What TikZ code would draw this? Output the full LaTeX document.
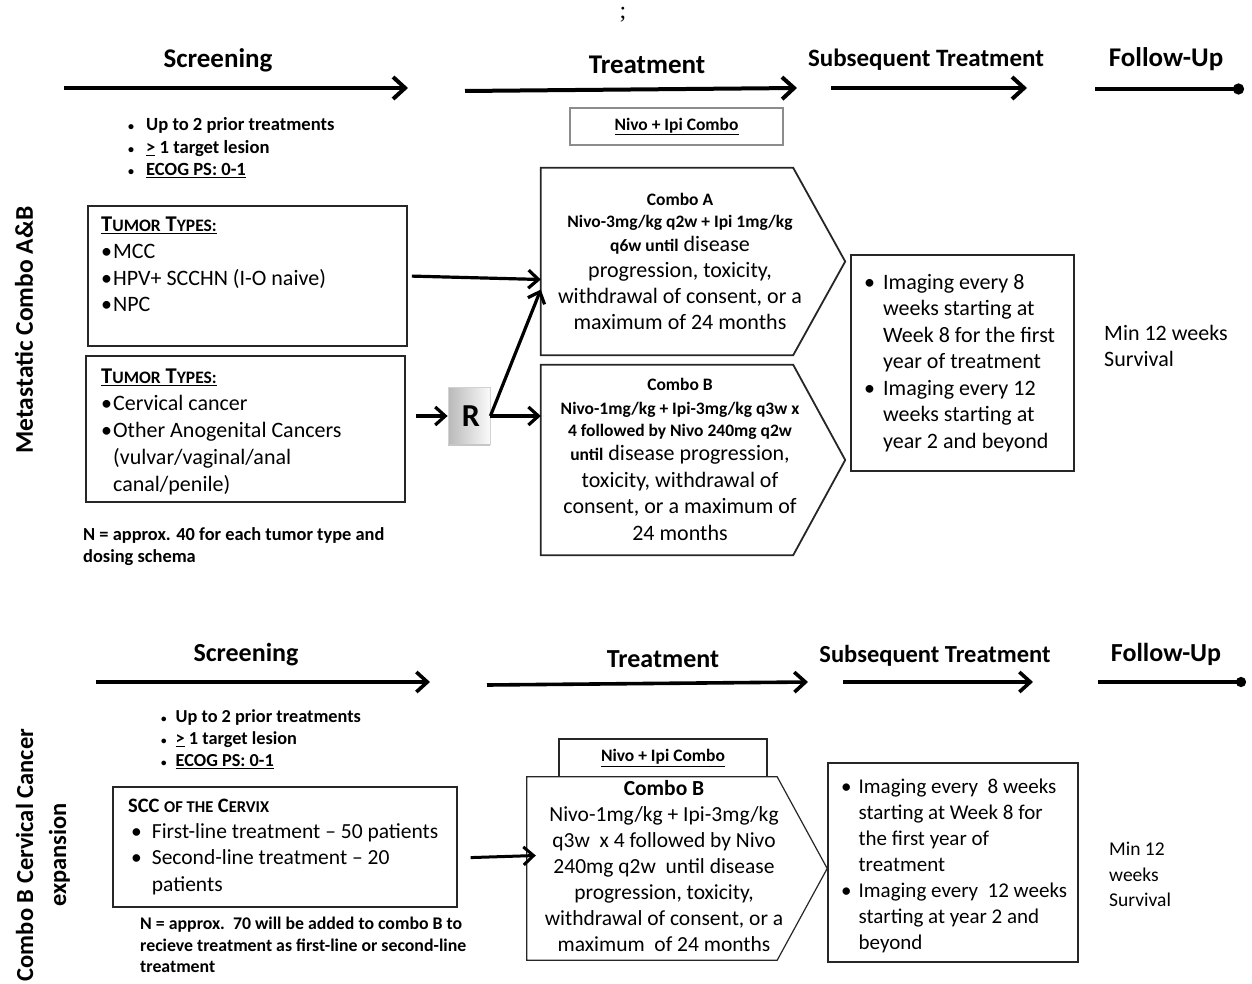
\documentclass[tikz,border=0pt]{standalone}
\usepackage{fontspec}
\setmainfont{Carlito}
\newfontfamily\serifx{Liberation Serif}
\usetikzlibrary{arrows.meta,calc}
\newcommand\fs[2]{\fontsize{#1pt}{#2pt}\selectfont}
\begin{document}
\begin{tikzpicture}[x=1pt,y=-1pt,
  bx/.style={draw=black!85, line width=1.8pt},
  bxthin/.style={draw=black!85, line width=1.2pt},
  hd/.style={font=\bfseries\fs{27}{32}, inner sep=0pt},
  hdb/.style={font=\bfseries\fs{26}{30}, inner sep=0pt},
  txt/.style={inner sep=0pt},
  arr/.style={line width=3.2pt, -{Straight Barb[length=10pt,width=18pt]}},
  hdarr/.style={line width=4pt, -{Straight Barb[length=12pt,width=22pt]}},
  hdarrb/.style={line width=3.6pt, -{Straight Barb[length=11pt,width=20pt]}},
  dotend/.style={line width=4pt, -{Circle[length=11pt]}},
  dotendb/.style={line width=3.6pt, -{Circle[length=10pt]}}
]
\fill[white] (0,0) rectangle (1252,984);
\path[use as bounding box] (0,0) rectangle (1252,984);

\node[txt, font=\serifx\fs{24}{24}] (semi) at (623,15) {;};

% ---------------- top timeline
\node[hd] (hS1) at (218,60) {Screening};
\node[hd] (hT1) at (647,65) {Treatment};
\node[hd, font=\bfseries\fs{25}{30}] (hU1) at (926,60) {Subsequent Treatment};
\node[hd] (hF1) at (1166,59) {Follow-Up};
\coordinate (s1a) at (64,88);   \coordinate (s1b) at (408,88);
\coordinate (t1a) at (465,91);  \coordinate (t1b) at (797,88);
\coordinate (u1a) at (831,88);  \coordinate (u1b) at (1027,88);
\coordinate (f1a) at (1095,89); \coordinate (f1b) at (1244,89);
\draw[hdarr] (s1a) -- (s1b);
\draw[hdarr] (t1a) -- (t1b);
\draw[hdarr] (u1a) -- (u1b);
\draw[dotend] (f1a) -- (f1b);

\node[txt, anchor=west, font=\bfseries\fs{18.6}{22.5}] (crit1) at (128,149) {\begin{tabular}{@{}l@{\hspace{12pt}}l@{}}
{\fs{12}{12}\textbullet} & Up to 2 prior treatments\\
{\fs{12}{12}\textbullet} & \underline{>} 1 target lesion\\
{\fs{12}{12}\textbullet} & \underline{ECOG PS: 0-1}
\end{tabular}};

\node[draw=black!45, line width=1.5pt, minimum width=213pt, minimum height=37pt, inner sep=0pt, font=\bfseries\fs{17.5}{20}] (niv1) at (676.5,126.5) {\underline{Nivo + Ipi Combo}};

% tumor boxes
\node[bx, minimum width=319pt, minimum height=140pt, inner sep=0pt] (tb1) at (247.5,276) {};
\node[txt, anchor=west, font=\fs{22}{26.7}] (tb1x) at (101,266.5) {\begin{tabular}{@{}l@{}}
\bfseries\underline{{\fs{22.5}{26.7}T}{\fs{17.5}{26.7}UMOR} {\fs{22.5}{26.7}T}{\fs{17.5}{26.7}YPES:}}\\
\textbullet\hspace{1pt}MCC\\
\textbullet\hspace{1pt}HPV+ SCCHN (I-O naive)\\
\textbullet\hspace{1pt}NPC
\end{tabular}};

\node[bx, minimum width=319pt, minimum height=146pt, inner sep=0pt] (tb2) at (245.5,429) {};
\node[txt, anchor=west, font=\fs{22}{27}] (tb2x) at (101,432) {\begin{tabular}{@{}l@{}}
\bfseries\underline{{\fs{22.5}{27}T}{\fs{17.5}{27}UMOR} {\fs{22.5}{27}T}{\fs{17.5}{27}YPES:}}\\
\textbullet\hspace{1pt}Cervical cancer\\
\textbullet\hspace{1pt}Other Anogenital Cancers\\
\phantom{\textbullet}\hspace{1pt}(vulvar/vaginal/anal\\
\phantom{\textbullet}\hspace{1pt}canal/penile)
\end{tabular}};

\node[txt, anchor=west, font=\bfseries\fs{18.4}{22}] (n40) at (83,547) {\begin{tabular}{@{}l@{}}
N = approx. 40 for each tumor type and\\
dosing schema
\end{tabular}};

% R box
\node[draw=gray!35, line width=0.8pt, minimum width=42pt, minimum height=57pt, inner sep=0pt,
  left color=gray!55, middle color=gray!6, right color=gray!4, font=\bfseries\fs{32}{32}] (rr) at (469,416) {\hspace{4pt}R};
\draw[gray!45, line width=2pt] (rr.south west) -- (rr.south east);

% combo A / B
\node[minimum width=252pt, minimum height=187pt, inner sep=0pt] (ca) at (667,261.5) {};
\draw[bx, line join=miter] (ca.north west) -- (ca.north east) -- ($(ca.east)+(52,0)$) -- (ca.south east) -- (ca.south west) -- cycle;
\node[txt, font=\fs{22}{26}] (caT) at (680,262) {\begin{tabular}{@{}c@{}}
{\bfseries\fs{17.5}{26}Combo A}\\[-4pt]
{\bfseries\fs{17.5}{26}Nivo-3mg/kg q2w + Ipi 1mg/kg}\\[-2pt]
{\bfseries\fs{17.5}{26}q6w until} disease\\
progression, toxicity,\\
withdrawal of consent, or a\\
maximum of 24 months
\end{tabular}};

\node[minimum width=252pt, minimum height=190pt, inner sep=0pt] (cb) at (667,460) {};
\draw[bx, line join=miter] (cb.north west) -- (cb.north east) -- ($(cb.east)+(52,0)$) -- (cb.south east) -- (cb.south west) -- cycle;
\node[txt, font=\fs{22}{26}] (cbT) at (680,460) {\begin{tabular}{@{}c@{}}
{\bfseries\fs{17.5}{26}Combo B}\\[-2pt]
{\bfseries\fs{17.5}{26}Nivo-1mg/kg + Ipi-3mg/kg q3w x}\\[-4pt]
{\bfseries\fs{17.5}{26}4 followed by Nivo 240mg q2w}\\[-2pt]
{\bfseries\fs{17.5}{26}until} disease progression,\\[1pt]
toxicity, withdrawal of\\
consent, or a maximum of\\[1pt]
24 months
\end{tabular}};

% connectors top
\draw[arr, shorten <=4pt] (tb1.east) -- ($(ca.west)+(0,18)$);
\draw[arr, shorten <=10pt] (tb2.east |- rr.west) -- (rr.west);
\draw[arr] (rr.east) -- ($(ca.west)+(0,28)$);
\draw[arr] (rr.east) -- (rr.east -| cb.west);

% imaging top
\node[bx, minimum width=223pt, minimum height=216pt, inner sep=0pt] (im1) at (962.5,363) {};
\node[txt, anchor=west, font=\fs{22}{26.5}] (im1T) at (864,363.5) {\begin{tabular}{@{}l@{\hspace{8pt}}l@{}}
\textbullet & Imaging every 8\\
& weeks starting at\\
& Week 8 for the first\\
& year of treatment\\
\textbullet & Imaging every 12\\
& weeks starting at\\
& year 2 and beyond
\end{tabular}};

\node[txt, anchor=west, font=\fs{22}{26}] (fu1) at (1104,348) {\begin{tabular}{@{}l@{}}
Min 12 weeks\\
Survival
\end{tabular}};

\node[txt, rotate=90, font=\bfseries\fs{25.5}{28}] (lab1) at (24,330) {Metastatic Combo A\&B};

% ---------------- bottom timeline
\node[hdb] (hS2) at (246,655) {Screening};
\node[hdb] (hT2) at (663,659) {Treatment};
\node[hdb, font=\bfseries\fs{24.5}{30}] (hU2) at (935,656) {Subsequent Treatment};
\node[hdb] (hF2) at (1166,654) {Follow-Up};
\coordinate (s2a) at (96,682);   \coordinate (s2b) at (430,682);
\coordinate (t2a) at (487,685);  \coordinate (t2b) at (808,682);
\coordinate (u2a) at (843,682);  \coordinate (u2b) at (1033,682);
\coordinate (f2a) at (1098,682); \coordinate (f2b) at (1246,682);
\draw[hdarrb] (s2a) -- (s2b);
\draw[hdarrb] (t2a) -- (t2b);
\draw[hdarrb] (u2a) -- (u2b);
\draw[dotendb] (f2a) -- (f2b);

\node[txt, anchor=west, font=\bfseries\fs{18.3}{22}] (crit2) at (161,740) {\begin{tabular}{@{}l@{\hspace{9pt}}l@{}}
{\fs{11}{11}\textbullet} & Up to 2 prior treatments\\
{\fs{11}{11}\textbullet} & \underline{>} 1 target lesion\\
{\fs{11}{11}\textbullet} & \underline{ECOG PS: 0-1}
\end{tabular}};

\node[bxthin, minimum width=344pt, minimum height=120pt, inner sep=0pt] (scc) at (285,847) {};
\node[txt, anchor=west, font=\fs{21.5}{26.3}] (sccT) at (128,846.5) {\begin{tabular}{@{}l@{\hspace{10pt}}l@{}}
\multicolumn{2}{@{}l@{}}{\bfseries\fs{20.5}{26.3}SCC {\fs{16.5}{26.3}OF THE} C{\fs{16.5}{26.3}ERVIX}}\\
\hspace{3pt}\textbullet & First-line treatment -- 50 patients\\
\hspace{3pt}\textbullet & Second-line treatment -- 20\\
& patients
\end{tabular}};

\node[txt, anchor=west, font=\bfseries\fs{17.8}{21.5}] (n70) at (140,947) {\begin{tabular}{@{}l@{}}
N = approx.\ \ 70 will be added\ to combo B to\\
recieve treatment as first-line\ or second-line\\
treatment
\end{tabular}};

\node[bxthin, minimum width=208pt, minimum height=38pt, inner sep=0pt, font=\bfseries\fs{17.5}{20}] (niv2) at (663,758) {\underline{Nivo + Ipi Combo}};

\node[minimum width=250pt, minimum height=183pt, inner sep=0pt] (cb2) at (652,868.5) {};
\draw[bxthin, fill=white, line join=miter] (cb2.north west) -- (cb2.north east) -- ($(cb2.east)+(50,0)$) -- (cb2.south east) -- (cb2.south west) -- cycle;
\node[txt, font=\fs{21.5}{26}] (cb2T) at (664,868) {\begin{tabular}{@{}c@{}}
{\bfseries Combo B}\\
Nivo-1mg/kg + Ipi-3mg/kg\\
q3w\ \ x 4 followed by Nivo\\
240mg q2w\ \ until disease\\
progression, toxicity,\\
withdrawal of consent, or a\\
maximum\ \ of 24 months
\end{tabular}};

\draw[arr, line width=3pt, shorten <=13pt] ($(scc.east)+(0,11)$) -- ($(cb2.west)+(9,-13)$);

\node[bxthin, minimum width=250pt, minimum height=199pt, inner sep=0pt] (im2) at (953,862.5) {};
\node[txt, anchor=west, font=\fs{21}{26}] (im2T) at (841,866) {\begin{tabular}{@{}l@{\hspace{7pt}}l@{}}
\textbullet & Imaging every\ \ 8 weeks\\
& starting at Week 8 for\\
& the first year of\\
& treatment\\
\textbullet & Imaging every\ \ 12 weeks\\
& starting at year 2 and\\
& beyond
\end{tabular}};

\node[txt, anchor=west, font=\fs{19.5}{25.5}] (fu2) at (1109,876) {\begin{tabular}{@{}l@{}}
Min 12\\
weeks\\
Survival
\end{tabular}};

\node[txt, rotate=90, align=center, font=\bfseries\fs{24.5}{33}] (lab2) at (43,855) {Combo B Cervical Cancer\\expansion};

\end{tikzpicture}
\end{document}
